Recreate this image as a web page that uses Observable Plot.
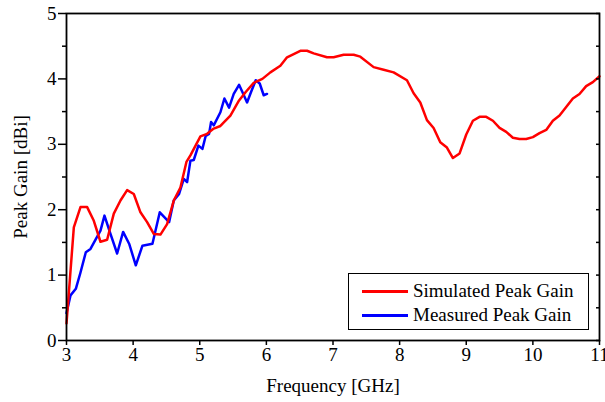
<!DOCTYPE html>
<html><head><meta charset="utf-8">
<script src="https://cdn.jsdelivr.net/npm/d3@7"></script>
<script src="https://cdn.jsdelivr.net/npm/@observablehq/plot@0.6"></script>
<style>
body{margin:0;background:#fff;}
#wrap{position:relative;width:605px;height:402px;font-family:"Liberation Serif",Tinos,Times,"DejaVu Serif","Noto Serif",serif;color:#000;}
#wrap svg, #wrap svg text{font-family:"Liberation Serif",Tinos,Times,"DejaVu Serif","Noto Serif",serif !important;}
#legend{position:absolute;left:348px;top:273px;width:241px;height:57px;border:1.5px solid #000;background:#fff;box-sizing:border-box;font-size:19px;}
.row{position:absolute;left:0;height:22px;line-height:22px;white-space:nowrap;}
.row span.sw{position:absolute;left:13px;top:10px;width:46px;height:2.5px;}
.row span.tx{position:absolute;left:64px;top:0;}
</style></head>
<body><div id="wrap"></div>
<script>
const simFreq = [3.00,3.11,3.21,3.31,3.41,3.51,3.61,3.71,3.81,3.91,4.01,4.11,4.21,4.31,4.41,4.51,4.61,4.71,4.80,4.86,5.01,5.11,5.21,5.31,5.46,5.59,5.69,5.81,5.94,6.06,6.21,6.31,6.41,6.51,6.61,6.71,6.91,7.01,7.16,7.31,7.41,7.61,7.76,7.91,8.11,8.21,8.31,8.41,8.51,8.61,8.71,8.80,8.90,9.00,9.10,9.20,9.30,9.40,9.50,9.60,9.70,9.80,9.90,10.00,10.10,10.20,10.30,10.40,10.50,10.60,10.70,10.80,10.90,11.00];
const simGain = [0.26,1.73,2.04,2.04,1.83,1.51,1.54,1.94,2.14,2.30,2.24,1.96,1.81,1.63,1.62,1.78,2.14,2.34,2.73,2.83,3.12,3.16,3.24,3.28,3.44,3.67,3.80,3.94,4.00,4.10,4.20,4.33,4.38,4.43,4.43,4.39,4.33,4.33,4.37,4.37,4.34,4.18,4.14,4.10,3.98,3.78,3.64,3.37,3.25,3.03,2.95,2.79,2.86,3.15,3.36,3.42,3.42,3.36,3.25,3.19,3.10,3.08,3.08,3.11,3.17,3.22,3.36,3.44,3.57,3.70,3.77,3.89,3.95,4.04];
const measFreq = [3.00,3.06,3.14,3.21,3.29,3.36,3.44,3.51,3.57,3.66,3.76,3.85,3.94,4.04,4.14,4.29,4.40,4.54,4.61,4.69,4.76,4.81,4.86,4.91,4.98,5.04,5.09,5.14,5.17,5.21,5.31,5.37,5.44,5.51,5.59,5.64,5.71,5.77,5.84,5.90,5.96,6.01];
const measGain = [0.42,0.69,0.79,1.04,1.35,1.40,1.55,1.68,1.91,1.63,1.33,1.66,1.48,1.15,1.45,1.48,1.96,1.81,2.14,2.24,2.47,2.42,2.75,2.76,2.98,2.93,3.13,3.16,3.34,3.29,3.49,3.70,3.56,3.77,3.91,3.80,3.64,3.80,3.98,3.93,3.75,3.77];
const xTicks = [3,4,5,6,7,8,9,10,11];
const yTicks = [0,1,2,3,4,5];
const yMinor = [0.5,1.5,2.5,3.5,4.5];
const yAll = [0,0.5,1,1.5,2,2.5,3,3.5,4,4.5,5];
const seriesNames = ["Simulated Peak Gain","Measured Peak Gain"];
const seriesColors = ["#ff0000","#0000ff"];

const sim = simFreq.map((f,i)=>({f, g: simGain[i]}));
const meas = measFreq.map((f,i)=>({f, g: measGain[i]}));
const FONT = "Liberation Serif, Tinos, Times, DejaVu Serif, Noto Serif, serif";

const chart = Plot.plot({
  width: 605, height: 402,
  marginLeft: 66, marginRight: 6, marginTop: 13, marginBottom: 62,
  style: {fontFamily: FONT, fontSize: "19px", color: "#000", background: "#fff", overflow: "visible"},
  x: {domain: [3, 11]},
  y: {domain: [0, 5]},
  marks: [
    Plot.line(meas, {x: "f", y: "g", stroke: seriesColors[1], strokeWidth: 2.5, curve: "linear"}),
    Plot.line(sim, {x: "f", y: "g", stroke: seriesColors[0], strokeWidth: 2.5, curve: "linear"}),
    Plot.axisX({ticks: xTicks, tickSize: 5, tickPadding: 2, tickFormat: d3.format("d"), label: "Frequency [GHz]", labelAnchor: "center", labelArrow: "none", labelOffset: 51, strokeWidth: 1.5, fontSize: 19}),
    Plot.axisY({ticks: yTicks, tickSize: 8, tickPadding: 2, tickFormat: d3.format("d"), label: "Peak Gain [dBi]", labelAnchor: "center", labelArrow: "none", labelOffset: 53, strokeWidth: 1.5, fontSize: 19}),
    Plot.axisY({ticks: yMinor, tickSize: 4, tickFormat: () => "", label: null, strokeWidth: 1.5}),
    Plot.axisY({anchor: "right", ticks: yAll, tickSize: 4, dx: -4, tickFormat: () => "", label: null, strokeWidth: 1.5}),
    Plot.frame({stroke: "#000", strokeWidth: 1.8})
  ]
});
const wrap = document.getElementById("wrap");
wrap.appendChild(chart);
const leg = document.createElement("div");
leg.id = "legend";
seriesNames.forEach((n,i)=>{
  const r = document.createElement("div");
  r.className = "row";
  r.style.top = (6 + i*24) + "px";
  r.style.width = "100%";
  r.innerHTML = `<span class="sw" style="background:${seriesColors[i]}"></span><span class="tx">${n}</span>`;
  leg.appendChild(r);
});
wrap.appendChild(leg);
</script></body></html>
